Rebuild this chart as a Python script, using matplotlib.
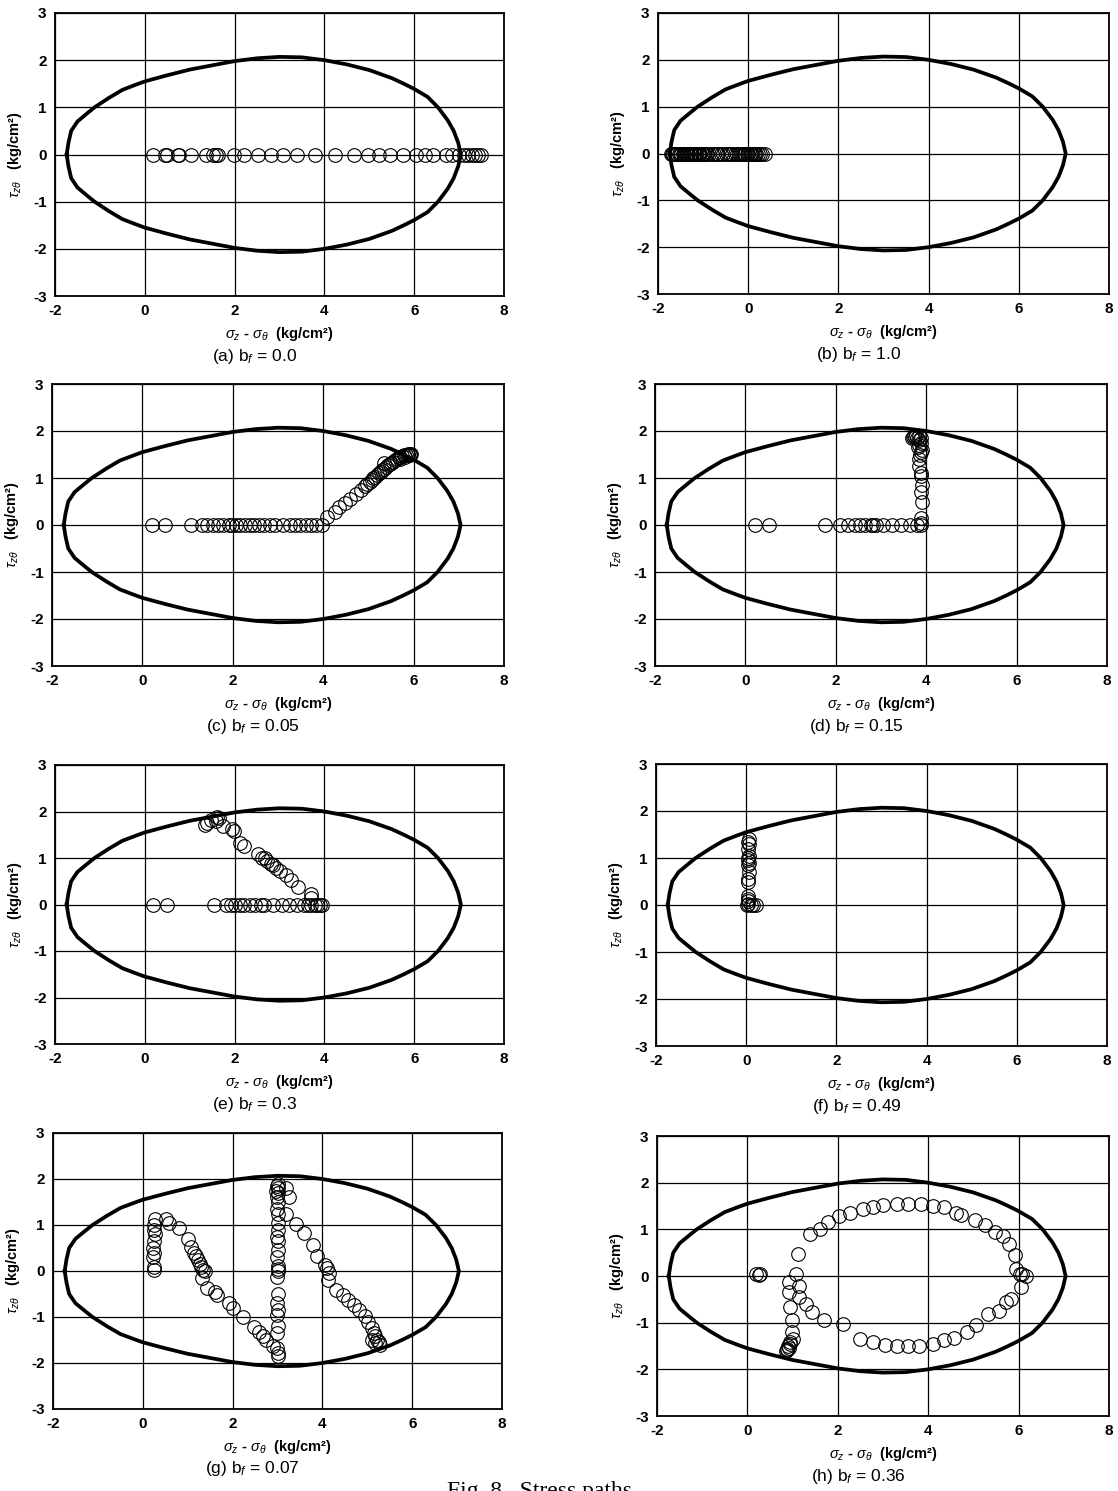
import matplotlib
matplotlib.use("Agg")
import numpy as np
import matplotlib.pyplot as plt

plt.rcParams["font.family"] = ["Liberation Sans", "DejaVu Sans"]
plt.rcParams["axes.unicode_minus"] = False
plt.rcParams["mathtext.fontset"] = "custom"
plt.rcParams["mathtext.rm"] = "Liberation Sans:bold"
plt.rcParams["mathtext.it"] = "Liberation Sans:italic"
plt.rcParams["mathtext.bf"] = "Liberation Sans:bold"

# ---------------------------------------------------------------------------
# Data
# ---------------------------------------------------------------------------

# failure envelope, upper half (lower half is its mirror image)
ENV_X = [-1.74, -1.70, -1.64, -1.50, -1.30, -1.12, -0.80, -0.50, -0.20, 0.00,
         0.50, 1.00, 1.50, 2.00, 2.50, 3.00, 3.50, 4.00, 4.50, 5.00,
         5.50, 5.77, 6.00, 6.30, 6.53, 6.75, 6.88, 6.98, 7.04]
ENV_Y = [0.00, 0.25, 0.50, 0.70, 0.86, 1.00, 1.20, 1.37, 1.48, 1.55,
         1.68, 1.80, 1.89, 1.98, 2.04, 2.07, 2.06, 2.00, 1.91, 1.79,
         1.62, 1.50, 1.39, 1.22, 1.00, 0.72, 0.50, 0.25, 0.00]

XTICKS = [-2, 0, 2, 4, 6, 8]
YTICKS = [-3, -2, -1, 0, 1, 2, 3]

CAPTIONS = ["(a) b$_f$ = 0.0", "(b) b$_f$ = 1.0", "(c) b$_f$ = 0.05",
            "(d) b$_f$ = 0.15", "(e) b$_f$ = 0.3", "(f) b$_f$ = 0.49",
            "(g) b$_f$ = 0.07", "(h) b$_f$ = 0.36"]

# (a) points along tau = 0
A_ROW_X = [0.19, 0.45, 0.49, 0.73, 0.76, 1.03, 1.37, 1.53, 1.59, 1.63,
           1.98, 2.22, 2.53, 2.80, 3.08, 3.39, 3.79, 4.24, 4.65, 4.96,
           5.21, 5.47, 5.75, 6.03, 6.25, 6.42, 6.71, 6.84, 7.00, 7.11,
           7.20, 7.28, 7.36, 7.43, 7.48]

# (b) dense points along tau = 0
B_ROW_X = [-1.72, -1.69, -1.66, -1.63, -1.60, -1.57, -1.54, -1.51, -1.48, -1.45,
           -1.42, -1.39, -1.36, -1.33, -1.30, -1.27, -1.24, -1.21, -1.18, -1.15,
           -1.12, -1.09, -1.06, -1.03, -1.00, -0.97, -0.94, -0.91, -0.86, -0.80,
           -0.76, -0.70, -0.66, -0.60, -0.55, -0.50, -0.44, -0.40, -0.35, -0.30,
           -0.25, -0.20, -0.16, -0.12, -0.09, -0.06, -0.03, 0.00, 0.03, 0.06,
           0.09, 0.12, 0.15, 0.18, 0.22, 0.26, 0.30, 0.38]

# (c)
C_ROW_X = [0.21, 0.49, 1.08, 1.32, 1.44, 1.56, 1.68, 1.79, 1.91, 1.99,
           2.07, 2.17, 2.27, 2.39, 2.48, 2.58, 2.70, 2.82, 2.94, 3.10,
           3.26, 3.38, 3.49, 3.61, 3.73, 3.85, 3.97]
C_PATH = [(4.09, 0.17), (4.25, 0.28), (4.36, 0.39), (4.48, 0.47), (4.60, 0.56),
          (4.72, 0.66), (4.84, 0.74), (4.93, 0.83), (4.98, 0.88), (5.03, 0.92),
          (5.07, 0.95), (5.11, 0.99), (5.15, 1.02), (5.19, 1.06), (5.23, 1.10),
          (5.27, 1.13), (5.31, 1.16), (5.35, 1.20), (5.39, 1.23), (5.43, 1.27),
          (5.47, 1.30), (5.51, 1.32), (5.55, 1.35), (5.59, 1.38), (5.63, 1.41),
          (5.67, 1.44), (5.71, 1.45), (5.75, 1.47), (5.79, 1.49), (5.83, 1.50),
          (5.87, 1.51), (5.91, 1.52), (5.95, 1.52), (5.35, 1.32), (5.70, 1.40),
          (5.80, 1.45), (5.88, 1.48), (5.92, 1.50)]

# (d)
D_ROW_X = [0.21, 0.52, 1.75, 2.10, 2.28, 2.42, 2.53, 2.65, 2.77, 2.83,
           2.89, 3.05, 3.24, 3.44, 3.64, 3.80, 3.88]
D_PATH = [(3.88, 0.05), (3.88, 0.15), (3.90, 0.50), (3.88, 0.70), (3.90, 0.85),
          (3.88, 1.05), (3.88, 1.10), (3.85, 1.25), (3.85, 1.40), (3.87, 1.50),
          (3.88, 1.55), (3.90, 1.60), (3.82, 1.65), (3.85, 1.70), (3.88, 1.75),
          (3.85, 1.80), (3.88, 1.85), (3.80, 1.85), (3.75, 1.88), (3.70, 1.88),
          (3.68, 1.85), (3.72, 1.90), (3.78, 1.92), (3.85, 1.90)]

# (e)
E_ROW_X = [0.19, 0.49, 1.55, 1.80, 1.93, 2.02, 2.12, 2.22, 2.34, 2.46,
           2.58, 2.66, 2.86, 3.06, 3.22, 3.38, 3.54, 3.63, 3.71, 3.78,
           3.84, 3.90, 3.94]
E_PATH = [(3.70, 0.22), (3.70, 0.15), (3.42, 0.38), (3.26, 0.53), (3.14, 0.63),
          (3.02, 0.71), (2.92, 0.79), (2.86, 0.84), (2.82, 0.87), (2.73, 0.94),
          (2.67, 0.99), (2.62, 1.01), (2.52, 1.09), (2.22, 1.26), (2.12, 1.32),
          (1.98, 1.57), (1.94, 1.62), (1.75, 1.69), (1.65, 1.85), (1.59, 1.80),
          (1.47, 1.82), (1.39, 1.75), (1.35, 1.71), (1.60, 1.88)]

# (f)
F_ROW_X = [0.10, 0.15, 0.22]
F_PATH = [(0.02, 0.00), (0.05, 0.03), (0.03, 0.08), (0.05, 0.12), (0.04, 0.20),
          (0.03, 0.50), (0.05, 0.55), (0.06, 0.70), (0.04, 0.85), (0.06, 0.90),
          (0.03, 0.95), (0.05, 1.00), (0.06, 1.05), (0.05, 1.20), (0.06, 1.30),
          (0.04, 1.35), (0.07, 1.40)]

# (g)
G_PATH = [(0.25, 0.02), (0.25, 0.08), (0.22, 0.30), (0.25, 0.40), (0.23, 0.50),
          (0.25, 0.65), (0.27, 0.80), (0.25, 0.90), (0.25, 1.00), (0.28, 1.12),
          (0.52, 1.14), (0.58, 1.05), (0.80, 0.93), (1.00, 0.69), (1.08, 0.53),
          (1.15, 0.40), (1.18, 0.32), (1.22, 0.25), (1.27, 0.15), (1.30, 0.08),
          (1.33, 0.02), (1.38, 0.00), (1.32, -0.16), (1.42, -0.38), (1.60, -0.45),
          (1.66, -0.52), (1.91, -0.70), (2.00, -0.80), (2.23, -0.99), (2.47, -1.21),
          (2.58, -1.32), (2.68, -1.42), (2.75, -1.50), (2.90, -1.62), (2.99, -1.68),
          (3.00, -1.78), (3.00, -1.85), (2.98, -1.35), (3.00, -1.20), (2.98, -0.95),
          (3.00, -0.85), (2.98, -0.70), (3.00, -0.50), (2.98, -0.12), (3.00, 0.00),
          (3.02, 0.05), (3.00, 0.10), (2.98, 0.30), (3.00, 0.45), (3.00, 0.65),
          (2.98, 0.75), (3.00, 0.90), (3.00, 1.05), (3.00, 1.25), (2.98, 1.35),
          (3.00, 1.50), (2.98, 1.60), (3.00, 1.70), (2.97, 1.75), (3.00, 1.80),
          (2.98, 1.85), (3.02, 1.90), (3.19, 1.81), (3.25, 1.60), (3.19, 1.25),
          (3.41, 1.03), (3.58, 0.83), (3.78, 0.56), (3.88, 0.33), (4.06, 0.13),
          (4.10, 0.06), (4.14, -0.05), (4.13, -0.20), (4.30, -0.41), (4.46, -0.52),
          (4.58, -0.63), (4.70, -0.74), (4.82, -0.85), (4.94, -0.98), (5.02, -1.10),
          (5.10, -1.24), (5.14, -1.35), (5.18, -1.42), (5.22, -1.50), (5.26, -1.55),
          (5.10, -1.51), (5.18, -1.57), (5.28, -1.60)]

# (h)
H_PATH = [(0.18, 0.05), (0.28, 0.05), (0.25, 0.02), (1.07, 0.05), (0.91, -0.13),
          (0.91, -0.34), (0.95, -0.66), (0.99, -0.95), (0.99, -1.20), (1.00, -1.35),
          (0.95, -1.45), (0.87, -1.56), (0.90, -1.50), (0.93, -1.55), (0.85, -1.60),
          (0.95, -1.42), (0.88, -1.58), (1.11, 0.48), (1.15, -0.21), (1.15, -0.45),
          (1.29, -0.59), (1.42, -0.77), (1.70, -0.95), (2.12, -1.02), (1.38, 0.91),
          (1.60, 1.00), (1.79, 1.16), (2.02, 1.28), (2.28, 1.36), (2.55, 1.43),
          (2.77, 1.48), (3.00, 1.53), (3.32, 1.55), (3.56, 1.55), (3.83, 1.55),
          (4.11, 1.51), (4.35, 1.48), (4.62, 1.36), (4.72, 1.30), (5.04, 1.19),
          (5.26, 1.10), (5.48, 0.94), (5.65, 0.85), (5.79, 0.69), (5.93, 0.46),
          (5.95, 0.14), (6.03, 0.05), (6.08, 0.05), (6.17, 0.00), (6.05, -0.24),
          (5.83, -0.49), (5.72, -0.56), (5.57, -0.74), (5.32, -0.82), (5.06, -1.06),
          (4.86, -1.20), (4.58, -1.33), (4.35, -1.38), (4.11, -1.45), (3.79, -1.49),
          (3.56, -1.49), (3.32, -1.50), (3.04, -1.47), (2.78, -1.41), (2.49, -1.34)]

ROWS = [A_ROW_X, B_ROW_X, C_ROW_X, D_ROW_X, E_ROW_X, F_ROW_X, [], []]
PATHS = [[], [], C_PATH, D_PATH, E_PATH, F_PATH, G_PATH, H_PATH]

# axes boxes in pixels: left, top, right, bottom
BOXES = [(55, 13, 504, 296), (658, 13, 1109, 294),
         (52, 384, 504, 666), (655, 384, 1107, 666),
         (55, 765, 504, 1044), (656, 764, 1107, 1046),
         (53, 1133, 502, 1409), (657, 1136, 1109, 1416)]

W, H = 1118, 1491

# ---------------------------------------------------------------------------
# Plot
# ---------------------------------------------------------------------------

fig = plt.figure(figsize=(W / 100, H / 100), dpi=100, facecolor="white")

env_x = np.array(ENV_X)
env_y = np.array(ENV_Y)
loop_x = np.concatenate([env_x, env_x[::-1]])
loop_y = np.concatenate([env_y, -env_y[::-1]])

for i, (l, t, r, b) in enumerate(BOXES):
    ax = fig.add_axes([l / W, 1 - b / H, (r - l) / W, (b - t) / H])
    ax.set_xlim(-2, 8)
    ax.set_ylim(-3, 3)
    ax.set_xticks(XTICKS)
    ax.set_yticks(YTICKS)
    ax.grid(True, color="black", linewidth=0.9)
    ax.set_axisbelow(True)
    for sp in ax.spines.values():
        sp.set_linewidth(1.3)
    ax.tick_params(length=0, pad=6, labelsize=11)
    for lab in ax.get_xticklabels() + ax.get_yticklabels():
        lab.set_fontweight("bold")

    ax.plot(loop_x, loop_y, color="black", linewidth=2.7, zorder=3)

    mk = dict(marker="o", linestyle="none", markersize=9.8,
              markerfacecolor="none", markeredgecolor="black",
              markeredgewidth=0.8, zorder=4)
    row = ROWS[i]
    if row:
        ax.plot(row, np.zeros(len(row)), **mk)
    path = PATHS[i]
    if path:
        px, py = zip(*path)
        ax.plot(px, py, **mk)

    ax.annotate(r"$\sigma_z$ - $\sigma_\theta$  (kg/cm²)", xy=(0.5, 0),
                xycoords="axes fraction", xytext=(0, -38),
                textcoords="offset pixels", ha="center", va="center",
                fontsize=10.5, fontweight="bold")
    ax.annotate(r"$\tau_{z\theta}$   (kg/cm²)", xy=(0, 0.5),
                xycoords="axes fraction", xytext=(-40, 0),
                textcoords="offset pixels", ha="center", va="center",
                rotation=90, fontsize=10.5, fontweight="bold")
    ax.annotate(CAPTIONS[i], xy=(0.5, 0), xycoords="axes fraction",
                xytext=(-25, -60), textcoords="offset pixels",
                ha="center", va="center", fontsize=12.5)

fig.text(447 / W, 1 - 1481 / H, "Fig. 8   Stress paths",
         family="Liberation Serif", fontsize=17, ha="left", va="top")

fig.savefig("out.png", dpi=100, facecolor="white")
